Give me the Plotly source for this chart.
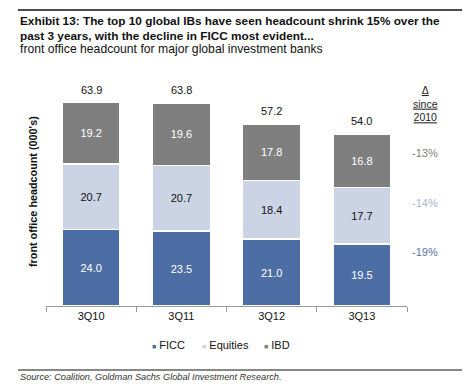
import plotly.graph_objects as go

quarters = ["3Q10", "3Q11", "3Q12", "3Q13"]
ficc = [24.0, 23.5, 21.0, 19.5]
equities = [20.7, 20.7, 18.4, 17.7]
ibd = [19.2, 19.6, 17.8, 16.8]
totals = [63.9, 63.8, 57.2, 54.0]
changes = ["-13%", "-14%", "-19%"]  # IBD, Equities, FICC
series_names = ["FICC", "Equities", "IBD"]

C_FICC = "#4d6ea5"
C_EQ = "#cbd3e5"
C_IBD = "#7f7f7f"
FONT = "Liberation Sans, Arial, sans-serif"

fig = go.Figure()
for name, vals, col, tcol in [("FICC", ficc, C_FICC, "white"), ("Equities", equities, C_EQ, "#111111"),
                              ("IBD", ibd, C_IBD, "white")]:
    fig.add_bar(x=quarters, y=vals, name=name, marker=dict(color=col, line=dict(color="white", width=1.5)),
                text=[f"{v:.1f}" for v in vals], textposition="inside", insidetextanchor="middle",
                textfont=dict(color=tcol, size=11, family=FONT))

ann = []
for q, t in zip(quarters, totals):
    ann.append(dict(x=q, y=t, xref="x", yref="y", text=f"{t:.1f}", showarrow=False,
                    xanchor="center", yanchor="bottom", yshift=5, font=dict(size=11, color="#111111", family=FONT)))

# right-hand change column
ann.append(dict(x=425, y=389-104, xref="paper", yref="paper", text="<u>Δ<br>since<br>2010</u>", showarrow=False,
                xanchor="center", yanchor="middle", font=dict(size=10.5, color="#222222", family=FONT)))
chg_colors = [C_IBD, "#a9b4cf", "#5a74a6"]
chg_y = [153, 203, 252]
for txt, col, yy in zip(changes, chg_colors, chg_y):
    ann.append(dict(x=425, y=389 - yy, xref="paper", yref="paper", text=txt, showarrow=False,
                    xanchor="center", yanchor="middle", font=dict(size=11, color=col, family=FONT)))

# y-axis title
ann.append(dict(x=33, y=389-192, xref="paper", yref="paper", text="<b>front office headcount (000's)</b>",
                textangle=-90, showarrow=False, xanchor="center", yanchor="middle",
                font=dict(size=10.8, color="#111111", family=FONT)))

# legend (small square markers)
leg_x = [150, 200, 262]
for name, col, lx in zip(series_names, [C_FICC, C_EQ, C_IBD], leg_x):
    ann.append(dict(x=lx, y=389-345, xref="paper", yref="paper", xanchor="left", yanchor="middle",
                    text=f"<span style='color:{col};font-size:7px'>■</span> {name}", showarrow=False,
                    font=dict(size=11, color="#111111", family=FONT)))

# titles
ann.append(dict(x=18, y=389-12, xref="paper", yref="paper", xanchor="left", yanchor="top", align="left",
                text="<b>Exhibit 13: The top 10 global IBs have seen headcount shrink 15% over the<br>past 3 years, with the decline in FICC most evident...</b>",
                showarrow=False, font=dict(size=11.8, color="#111111", family=FONT)))
ann.append(dict(x=18, y=389-40, xref="paper", yref="paper", xanchor="left", yanchor="top", align="left",
                text="front office headcount for major global investment banks",
                showarrow=False, font=dict(size=12.2, color="#111111", family=FONT)))
ann.append(dict(x=18, y=389-377, xref="paper", yref="paper", xanchor="left", yanchor="middle", align="left",
                text="<i>Source: Coalition, Goldman Sachs Global Investment Research.</i>",
                showarrow=False, font=dict(size=9.2, color="#333333", family=FONT)))

# convert pixel-based paper annotations
W, H = 468, 389
L, R, T, B = 46, 61, 90, 83
pw, ph = W - L - R, H - T - B
for a in ann:
    if a.get("xref") == "paper":
        a["x"] = (a["x"] - L) / pw
        a["y"] = (a["y"] - B) / ph

def hrule(ypix, width):
    yy = (H - ypix - B) / ph
    return dict(type="line", xref="paper", yref="paper", x0=(18 - L) / pw, x1=(462 - L) / pw,
                y0=yy, y1=yy, line=dict(color="#111111", width=width), layer="above")

shapes = [hrule(10, 1.5), hrule(370, 1)]

fig.update_layout(
    barmode="stack", bargap=0.356,
    width=W, height=H, margin=dict(l=L, r=R, t=T, b=B, autoexpand=False),
    paper_bgcolor="white", plot_bgcolor="white",
    font=dict(family=FONT, size=11, color="#111111"),
    xaxis=dict(showline=True, linecolor="#999999", linewidth=1, ticks="outside", tickcolor="#999999",
               ticklen=5, tickson="boundaries", tickfont=dict(size=11), showgrid=False),
    yaxis=dict(range=[0, 67.9], visible=False, showgrid=False),
    showlegend=False,
    annotations=ann, shapes=shapes,
)
fig.write_html("out.html", config={"displayModeBar": False},
               post_script="document.body.style.margin='0';document.body.style.overflow='hidden';")
